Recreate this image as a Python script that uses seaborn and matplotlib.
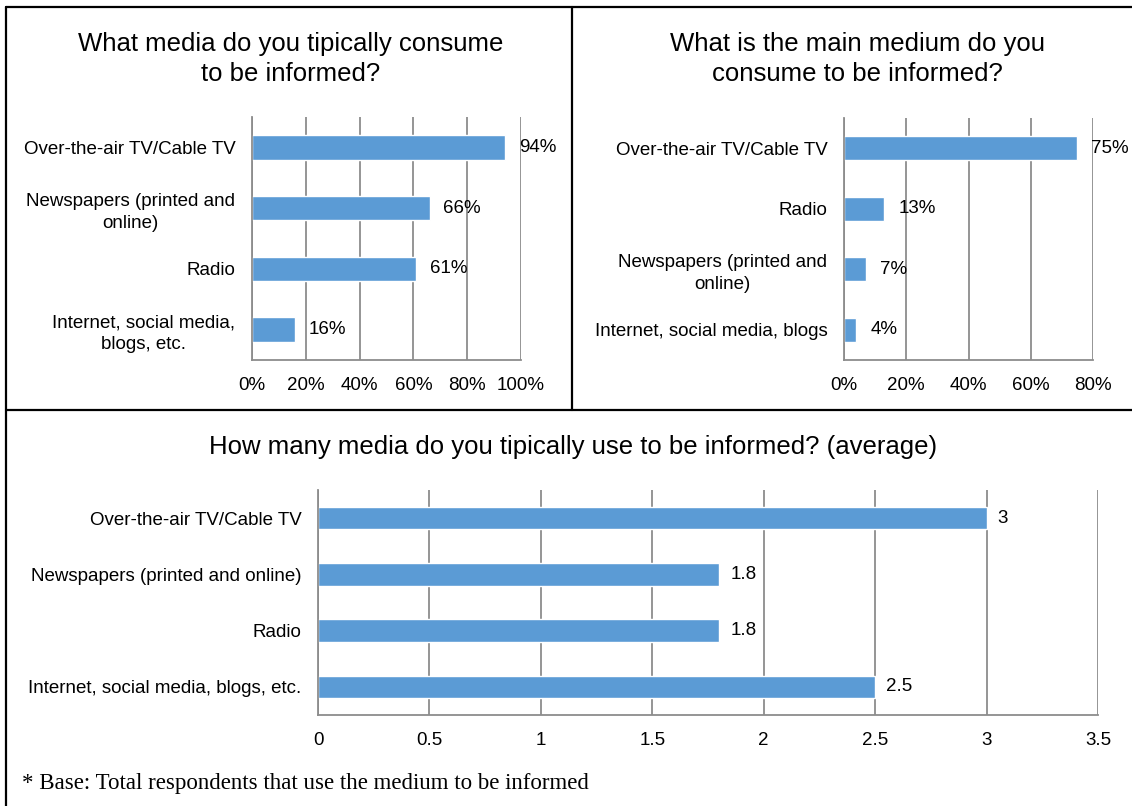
import matplotlib
matplotlib.use("Agg")
import matplotlib.pyplot as plt
import matplotlib.lines as mlines
import seaborn as sns
import pandas as pd

# data
typical_media = ["Over-the-air TV/Cable TV", "Newspapers (printed and\nonline)",
                 "Radio", "Internet, social media,\nblogs, etc."]
typical_pct = [94, 66, 61, 16]

main_media = ["Over-the-air TV/Cable TV", "Radio",
              "Newspapers (printed and\nonline)", "Internet, social media, blogs"]
main_pct = [75, 13, 7, 4]

count_media = ["Over-the-air TV/Cable TV", "Newspapers (printed and online)",
               "Radio", "Internet, social media, blogs, etc."]
count_avg = [3, 1.8, 1.8, 2.5]

BAR = "#5B9BD5"
GRID = "#8C8C8C"
FS = 13.5

sns.set_style("white")
plt.rcParams["font.family"] = ["Liberation Sans", "DejaVu Sans"]
plt.rcParams["text.color"] = "black"

W, H = 1132, 806
fig = plt.figure(figsize=(W / 100, H / 100), dpi=100)


def px_axes(left, top, right, bottom):
    return fig.add_axes([left / W, 1 - bottom / H, (right - left) / W, (bottom - top) / H])


def draw_panel(ax, labels, values, xmax, xstep, fmt, pad):
    df = pd.DataFrame({"medium": labels, "value": values})
    sns.barplot(data=df, x="value", y="medium", orient="h", color=BAR,
                width=0.4, ax=ax, saturation=1)
    ax.set_xlim(0, xmax)
    ax.set_ylim(len(labels) - 0.5, -0.5)
    xt = [i * xstep for i in range(int(round(xmax / xstep)) + 1)]
    ax.set_xticks(xt)
    ax.set_xticklabels([fmt(v) for v in xt], fontsize=FS)
    ax.xaxis.grid(True, color=GRID, linewidth=1.3)
    ax.set_axisbelow(True)
    # category boundary ticks on y, labels at centres
    ax.set_yticks([i - 0.5 for i in range(len(labels) + 1)])
    ax.set_yticklabels([])
    ax.set_yticks(range(len(labels)), minor=True)
    ax.set_yticklabels(labels, minor=True, fontsize=FS, linespacing=1.35)
    for t in ax.get_yticklabels(minor=True):
        t.set_multialignment("center")
    ax.tick_params(axis="y", which="major", length=5, width=1.3, direction="out")
    ax.tick_params(axis="y", which="minor", length=0, pad=12)
    ax.tick_params(axis="x", length=4, width=1.3, direction="out", pad=8)
    ax.tick_params(axis="both", which="both", color=GRID, labelcolor="black")
    for s in ["top", "right"]:
        ax.spines[s].set_visible(False)
    for s in ["left", "bottom"]:
        ax.spines[s].set_color(GRID)
        ax.spines[s].set_linewidth(1.3)
    ax.set_xlabel("")
    ax.set_ylabel("")
    ax.bar_label(ax.containers[0], labels=[fmt(v) for v in values],
                 padding=pad, fontsize=FS, color="black")


ax1 = px_axes(252, 117, 521, 360)
draw_panel(ax1, typical_media, typical_pct, 100, 20, lambda v: f"{v:g}%", 10)

ax2 = px_axes(844, 118, 1093, 360)
draw_panel(ax2, main_media, main_pct, 80, 20, lambda v: f"{v:g}%", 10)

ax3 = px_axes(318, 490, 1098, 715)
draw_panel(ax3, count_media, count_avg, 3.5, 0.5, lambda v: f"{v:g}", 8)

# titles
fig.text(291 / W, 1 - 59 / H, "What media do you tipically consume\nto be informed?",
         ha="center", va="center", fontsize=18.5, linespacing=1.3)
fig.text(857 / W, 1 - 59 / H, "What is the main medium do you\nconsume to be informed?",
         ha="center", va="center", fontsize=18.5, linespacing=1.3)
fig.text(573 / W, 1 - 447 / H, "How many media do you tipically use to be informed? (average)",
         ha="center", va="center", fontsize=18.5)

fig.text(22 / W, 1 - 783 / H, "* Base: Total respondents that use the medium to be informed",
         ha="left", va="center", fontsize=16.5, family=["Liberation Serif", "DejaVu Serif"])

# panel borders
lw = 1.6
for xs, ys in [([6, 6], [7, H]), ([6, W], [7, 7]), ([572, 572], [7, 410]), ([6, W], [410, 410])]:
    fig.add_artist(mlines.Line2D([x / W for x in xs], [1 - y / H for y in ys],
                                 color="black", linewidth=lw, transform=fig.transFigure))

fig.savefig("out.png", dpi=100)
